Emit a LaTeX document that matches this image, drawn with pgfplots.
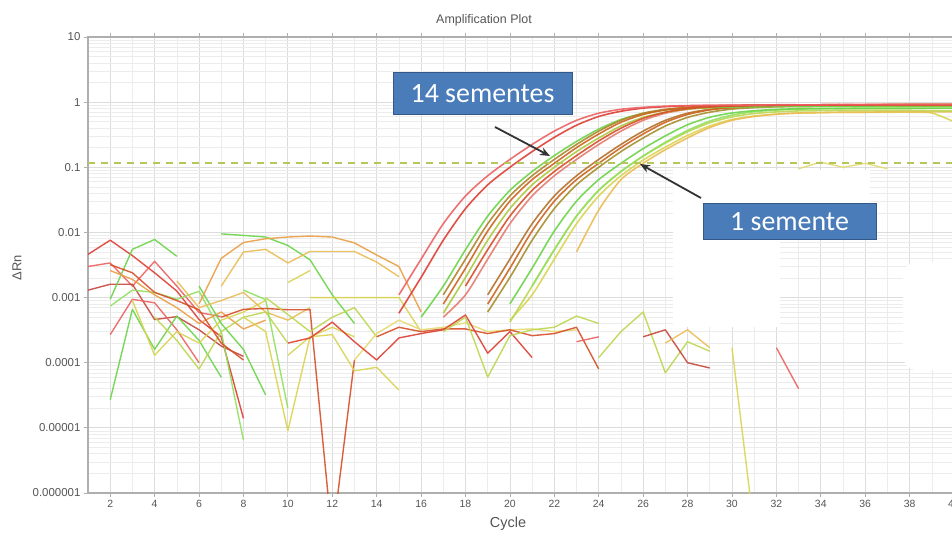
\documentclass[border=0pt]{standalone}
\usepackage{pgfplots}
\pgfplotsset{compat=1.18}
\usepackage{fontspec}
\setmainfont{Liberation Sans}
\newfontfamily\boxfont{Carlito}
\usetikzlibrary{arrows.meta}

% frame, grid and text colours
\definecolor{gridmaj}{RGB}{220,220,220}
\definecolor{gridmin}{RGB}{236,236,236}
\definecolor{axgray}{RGB}{175,175,175}
\definecolor{tickgray}{RGB}{85,85,85}
\definecolor{thresh}{RGB}{182,198,88}
\definecolor{boxblue}{RGB}{74,124,186}
\definecolor{boxedge}{RGB}{52,88,135}
% well colours
\definecolor{wRed}{RGB}{222,62,52}
\definecolor{wPink}{RGB}{236,98,98}
\definecolor{wRose}{RGB}{230,122,112}
\definecolor{wRedOr}{RGB}{215,78,40}
\definecolor{wDarkRed}{RGB}{198,72,60}
\definecolor{wOrBrown}{RGB}{205,100,30}
\definecolor{wBrown}{RGB}{180,112,40}
\definecolor{wOlBrown}{RGB}{175,132,42}
\definecolor{wOlive}{RGB}{165,142,42}
\definecolor{wOrange}{RGB}{235,158,68}
\definecolor{wYelOr}{RGB}{235,188,85}
\definecolor{wYellow}{RGB}{218,212,82}
\definecolor{wLtYel}{RGB}{228,218,112}
\definecolor{wYelGr}{RGB}{188,215,80}
\definecolor{wLime}{RGB}{170,202,62}
\definecolor{wGreen}{RGB}{108,212,72}
\definecolor{wLtGreen}{RGB}{145,225,95}

\pgfplotsset{amp/.style={smooth, tension=0.45, line width=1.6bp}}

\begin{document}
\begin{tikzpicture}[x=1bp,y=1bp]
\useasboundingbox (0,0) rectangle (952,536);
\fill[white] (0,0) rectangle (952,536);
\begin{axis}[
  at={(88bp,43bp)}, anchor=south west,
  scale only axis, width=866bp, height=456bp,
  xmin=1, xmax=40, ymode=log, ymin=1e-6, ymax=10,
  xtick={2,4,...,40},
  minor xtick={1,3,...,39},
  ytick={1e-6,1e-5,1e-4,1e-3,1e-2,1e-1,1,10},
  yticklabels={0.000001,0.00001,0.0001,0.001,0.01,0.1,1,10},
  minor ytick={2e-6,3e-6,4e-6,5e-6,6e-6,7e-6,8e-6,9e-6,
               2e-5,3e-5,4e-5,5e-5,6e-5,7e-5,8e-5,9e-5,
               2e-4,3e-4,4e-4,5e-4,6e-4,7e-4,8e-4,9e-4,
               2e-3,3e-3,4e-3,5e-3,6e-3,7e-3,8e-3,9e-3,
               0.02,0.03,0.04,0.05,0.06,0.07,0.08,0.09,
               0.2,0.3,0.4,0.5,0.6,0.7,0.8,0.9,
               2,3,4,5,6,7,8,9},
  grid=both,
  major grid style={draw=gridmaj, line width=0.8bp},
  minor grid style={draw=gridmin, line width=0.6bp},
  axis line style={draw=axgray, line width=1.3bp},
  tick align=outside,
  major tick length=4bp, minor tick length=0pt,
  tick style={draw=axgray, line width=0.8bp},
  xticklabel style={font=\fontsize{10.5}{12}\selectfont, text=tickgray},
  yticklabel style={font=\fontsize{11.5}{12}\selectfont, text=tickgray},
  /pgf/number format/assume math mode=true,
  every axis plot/.append style={line width=1.4bp, line join=round, mark=none, opacity=0.9},
]
% blank patches in the plotting area
\fill[white] (axis cs:27.35,0.09) rectangle (axis cs:36.2,7.6e-3);
\fill[white] (axis cs:27.35,7.6e-3) rectangle (axis cs:32.17,3.5e-4);
\fill[white, rounded corners=14bp] (axis cs:37.7,3.5e-3) rectangle (axis cs:41,7.7e-5);

% ---- baseline noise, early cycles ----
\addplot[wRed] coordinates {(1,4.6e-3)(2,7.6e-3)(3,4.4e-3)(4,2.4e-3)(5,1.26e-3)(6,4.6e-4)(7,2.5e-4)(8,1.4e-5)};
\addplot[wPink] coordinates {(1,3.0e-3)(2,3.4e-3)(3,1.5e-3)(4,3.6e-3)(5,1.5e-3)(6,5.9e-4)(7,5.1e-4)};
\addplot[wDarkRed] coordinates {(1,1.3e-3)(2,1.6e-3)(3,1.6e-3)(4,4.6e-4)(5,5.1e-4)(6,3.2e-4)(7,1.8e-4)(8,1.25e-4)};
\addplot[wPink] coordinates {(2,2.7e-4)(3,9.4e-4)(4,8.3e-4)(5,3.2e-4)(6,1.0e-4)};
\addplot[wGreen] coordinates {(2,2.7e-5)(3,6.6e-4)(4,1.6e-4)(5,5.2e-4)(6,2.2e-4)(7,6.0e-5)};
\addplot[wGreen] coordinates {(2,9.4e-4)(3,5.5e-3)(4,7.8e-3)(5,4.3e-3)};
\addplot[wLtGreen] coordinates {(2,7.4e-4)(3,1.3e-3)(4,1.2e-3)(5,9.4e-4)(6,1.25e-3)(7,3.0e-4)(8,6.5e-6)};
\addplot[wOrange] coordinates {(2,2.6e-3)(3,1.9e-3)(4,1.1e-3)(5,7.0e-4)(6,4.0e-4)(7,6.0e-4)(8,3.3e-4)(9,4.5e-4)};
\addplot[wYellow] coordinates {(3,9.0e-4)(4,1.3e-4)(5,3.0e-4)(6,2.0e-4)(7,4.5e-4)(8,6.0e-4)(9,9.0e-4)};
\addplot[wYelGr] coordinates {(4,5.0e-4)(5,2.2e-4)(6,8.0e-5)(7,3.0e-4)(8,5.0e-4)(9,6.0e-4)(10,2.0e-4)};
\addplot[wRedOr] coordinates {(2,3.2e-3)(3,2.4e-3)(4,1.2e-3)(5,9.0e-4)(6,6.5e-4)(7,2.0e-4)(8,1.1e-4)};
\addplot[wGreen] coordinates {(6,1.5e-3)(7,4.0e-4)(8,1.6e-4)(9,3.2e-5)};
\addplot[wYelOr] coordinates {(5,1.8e-3)(6,7.0e-4)(7,9.0e-4)(8,1.2e-3)(9,6.0e-4)(10,4.5e-4)(11,7.0e-4)};
\addplot[wLtGreen] coordinates {(8,1.3e-3)(9,9.3e-4)(10,2.0e-5)};

% ---- baseline noise, middle cycles ----
\addplot[wGreen] coordinates {(7,9.5e-3)(8,9.0e-3)(9,8.5e-3)(10,6.3e-3)(11,3.8e-3)(12,1.1e-3)(13,4.0e-4)};
\addplot[wOrange] coordinates {(6,8.0e-4)(7,4.0e-3)(8,7.0e-3)(9,8.0e-3)(10,8.5e-3)(11,8.8e-3)(12,8.5e-3)(13,6.9e-3)(14,4.5e-3)(15,3.0e-3)(16,6.0e-4)};
\addplot[wYelOr] coordinates {(7,1.5e-3)(8,5.0e-3)(9,5.5e-3)(10,3.4e-3)(11,5.1e-3)(12,5.1e-3)(13,5.1e-3)(14,3.5e-3)(15,2.1e-3)};
\addplot[wYellow] coordinates {(10,1.7e-3)(11,2.6e-3)};
\addplot[wYellow] coordinates {(11,1.0e-3)(12,1.0e-3)(13,1.0e-3)(14,1.0e-3)(15,1.0e-3)(16,3.0e-4)};
\addplot[wRedOr] coordinates {(7,5.0e-4)(8,6.6e-4)(9,6.8e-4)(10,6.5e-4)(11,6.5e-4)(12,2.0e-7)(13,1.1e-4)};
\addplot[wYellow] coordinates {(8,5.0e-4)(9,3.0e-4)(10,9.0e-6)(11,2.5e-4)(12,3.5e-4)(13,2.5e-4)};
\addplot[wYelGr] coordinates {(9,1.0e-3)(10,5.5e-4)(11,3.0e-4)(12,5.0e-4)(13,7.0e-4)(14,2.5e-4)};
\addplot[wYellow] coordinates {(10,1.3e-4)(11,2.5e-4)(12,2.7e-4)(13,7.5e-5)(14,8.5e-5)(15,3.8e-5)};
\addplot[wLtYel] coordinates {(13,1.1e-4)(14,2.8e-4)(15,4.5e-4)(16,3.2e-4)(17,3.5e-4)(18,4.1e-4)(19,3.0e-4)(20,3.2e-4)(21,3.3e-4)(22,3.0e-4)(23,3.2e-4)};
\addplot[wRed] coordinates {(10,2.0e-4)(11,2.4e-4)(12,4.2e-4)(13,2.1e-4)(14,1.1e-4)(15,2.4e-4)(16,2.8e-4)(17,3.2e-4)(18,5.4e-4)(19,1.4e-4)(20,3.0e-4)(21,1.2e-4)};
\addplot[wRedOr] coordinates {(14,2.5e-4)(15,3.5e-4)(16,3.0e-4)(17,3.3e-4)(18,3.3e-4)(19,2.8e-4)(20,3.2e-4)(21,2.6e-4)(22,2.8e-4)(23,3.5e-4)(24,8.0e-5)};
\addplot[wPink] coordinates {(23,2.1e-4)(24,2.5e-4)};
\addplot[wYelGr] coordinates {(17,3.0e-4)(18,5.0e-4)(19,6.0e-5)(20,2.6e-4)(21,3.2e-4)(22,3.5e-4)(23,5.2e-4)(24,4.0e-4)};

% ---- baseline noise, late cycles ----
\addplot[wYelGr] coordinates {(24,1.2e-4)(25,3.0e-4)(26,6.0e-4)(27,7.0e-5)(28,2.1e-4)(29,1.5e-4)};
\addplot[wDarkRed] coordinates {(26,2.5e-4)(27,3.2e-4)(28,1.0e-4)(29,8.3e-5)};
\addplot[wYelOr] coordinates {(27,2.0e-4)(28,3.2e-4)(29,1.7e-4)};
\addplot[wYellow] coordinates {(30,1.7e-4)(31,2.8e-7)};
\addplot[wPink] coordinates {(32,1.7e-4)(33,4.0e-5)};
\addplot[wLtYel] coordinates {(33,0.095)(34,0.12)(35,0.10)(36,0.115)(37,0.095)};

% ---- amplification curves ----
\addplot[wYellow, amp] coordinates {(20,4.5e-4)(21,1.10e-3)(22,3.89e-3)(23,1.36e-2)(24,3.63e-2)(25,7.41e-2)(26,0.129)(27,0.204)(28,0.308)(29,0.430)(30,0.541)(31,0.610)(32,0.653)(33,0.681)(34,0.69)(35,0.70)(36,0.70)(37,0.70)(38,0.70)(39,0.68)(40,0.50)};
\addplot[wYelOr, amp] coordinates {(23,5.0e-3)(24,2.2e-2)(25,6.46e-2)(26,0.115)(27,0.186)(28,0.282)(29,0.407)(30,0.525)(31,0.603)(32,0.653)(33,0.68)(34,0.69)(35,0.70)(36,0.70)(37,0.71)(38,0.71)(39,0.71)(40,0.71)};
\addplot[wYelGr, amp] coordinates {(20,4.2e-4)(21,1.50e-3)(22,5.43e-3)(23,1.78e-2)(24,4.42e-2)(25,8.61e-2)(26,0.148)(27,0.235)(28,0.350)(29,0.482)(30,0.593)(31,0.668)(32,0.708)(33,0.733)(34,0.74)(35,0.75)(36,0.75)(37,0.75)(38,0.75)(39,0.74)(40,0.73)};
\addplot[wLtGreen, amp] coordinates {(21,1.50e-3)(22,5.43e-3)(23,1.78e-2)(24,4.42e-2)(25,8.61e-2)(26,0.149)(27,0.242)(28,0.367)(29,0.511)(30,0.631)(31,0.713)(32,0.755)(33,0.782)(34,0.79)(35,0.80)(36,0.80)(37,0.80)(38,0.80)(39,0.80)(40,0.80)};
\addplot[wGreen, amp] coordinates {(20,8.0e-4)(21,2.82e-3)(22,1.05e-2)(23,3.02e-2)(24,6.46e-2)(25,0.115)(26,0.193)(27,0.303)(28,0.449)(29,0.586)(30,0.681)(31,0.738)(32,0.773)(33,0.791)(34,0.80)(35,0.80)(36,0.81)(37,0.81)(38,0.81)(39,0.81)(40,0.81)};
\addplot[wOlive, amp] coordinates {(19,6.0e-4)(20,2.04e-3)(21,7.59e-3)(22,2.32e-2)(23,5.37e-2)(24,0.100)(25,0.174)(26,0.282)(27,0.430)(28,0.583)(29,0.700)(30,0.782)(31,0.822)(32,0.847)(33,0.855)(34,0.86)(35,0.86)(36,0.87)(37,0.87)(38,0.87)(39,0.87)(40,0.87)};
\addplot[wBrown, amp] coordinates {(19,1.10e-3)(20,3.89e-3)(21,1.36e-2)(22,3.63e-2)(23,7.41e-2)(24,0.132)(25,0.224)(26,0.359)(27,0.525)(28,0.676)(29,0.776)(30,0.832)(31,0.867)(32,0.885)(33,0.89)(34,0.89)(35,0.90)(36,0.90)(37,0.90)(38,0.90)(39,0.90)(40,0.90)};
\addplot[wOrBrown, amp] coordinates {(19,7.94e-4)(20,2.82e-3)(21,1.05e-2)(22,3.02e-2)(23,6.46e-2)(24,0.115)(25,0.200)(26,0.324)(27,0.490)(28,0.646)(29,0.759)(30,0.822)(31,0.861)(32,0.881)(33,0.89)(34,0.90)(35,0.90)(36,0.91)(37,0.91)(38,0.91)(39,0.91)(40,0.91)};
\addplot[wRose, amp] coordinates {(17,5.0e-4)(18,1.10e-3)(19,3.89e-3)(20,1.36e-2)(21,3.63e-2)(22,7.41e-2)(23,0.132)(24,0.224)(25,0.359)(26,0.525)(27,0.676)(28,0.776)(29,0.832)(30,0.867)(31,0.885)(32,0.89)(33,0.89)(34,0.89)(35,0.90)(36,0.90)(37,0.90)(38,0.90)(39,0.90)(40,0.90)};
\addplot[wLime, amp] coordinates {(17,5.75e-4)(18,2.04e-3)(19,7.59e-3)(20,2.32e-2)(21,5.37e-2)(22,0.100)(23,0.174)(24,0.282)(25,0.430)(26,0.583)(27,0.700)(28,0.782)(29,0.822)(30,0.847)(31,0.855)(32,0.86)(33,0.86)(34,0.87)(35,0.87)(36,0.87)(37,0.87)(38,0.88)(39,0.88)(40,0.88)};
\addplot[wGreen, amp] coordinates {(16,5.0e-4)(17,1.50e-3)(18,5.43e-3)(19,1.78e-2)(20,4.42e-2)(21,8.61e-2)(22,0.151)(23,0.249)(24,0.385)(25,0.541)(26,0.670)(27,0.759)(28,0.804)(29,0.832)(30,0.847)(31,0.85)(32,0.86)(33,0.86)(34,0.87)(35,0.87)(36,0.87)(37,0.88)(38,0.88)(39,0.88)(40,0.88)};
\addplot[wOlBrown, amp] coordinates {(17,1.10e-3)(18,3.89e-3)(19,1.36e-2)(20,3.63e-2)(21,7.41e-2)(22,0.132)(23,0.224)(24,0.359)(25,0.525)(26,0.676)(27,0.776)(28,0.832)(29,0.867)(30,0.882)(31,0.89)(32,0.89)(33,0.90)(34,0.90)(35,0.90)(36,0.90)(37,0.91)(38,0.91)(39,0.91)(40,0.91)};
\addplot[wOrBrown, amp] coordinates {(17,7.94e-4)(18,2.82e-3)(19,1.05e-2)(20,3.02e-2)(21,6.46e-2)(22,0.115)(23,0.200)(24,0.324)(25,0.490)(26,0.646)(27,0.759)(28,0.822)(29,0.861)(30,0.881)(31,0.89)(32,0.90)(33,0.90)(34,0.91)(35,0.91)(36,0.91)(37,0.91)(38,0.92)(39,0.92)(40,0.92)};
\addplot[wRedOr, amp] coordinates {(18,1.50e-3)(19,5.43e-3)(20,1.78e-2)(21,4.42e-2)(22,8.61e-2)(23,0.151)(24,0.254)(25,0.398)(26,0.562)(27,0.700)(28,0.794)(29,0.841)(30,0.871)(31,0.885)(32,0.89)(33,0.90)(34,0.90)(35,0.91)(36,0.91)(37,0.92)(38,0.92)(39,0.92)(40,0.92)};
\addplot[wRed, amp] coordinates {(15,5.75e-4)(16,2.04e-3)(17,7.59e-3)(18,2.32e-2)(19,5.37e-2)(20,0.100)(21,0.174)(22,0.288)(23,0.442)(24,0.603)(25,0.724)(26,0.809)(27,0.851)(28,0.877)(29,0.889)(30,0.89)(31,0.90)(32,0.90)(33,0.90)(34,0.91)(35,0.91)(36,0.91)(37,0.91)(38,0.91)(39,0.91)(40,0.91)};
\addplot[wPink, amp] coordinates {(15,1.10e-3)(16,3.89e-3)(17,1.36e-2)(18,3.63e-2)(19,7.41e-2)(20,0.132)(21,0.224)(22,0.359)(23,0.525)(24,0.676)(25,0.776)(26,0.832)(27,0.867)(28,0.885)(29,0.89)(30,0.90)(31,0.90)(32,0.91)(33,0.91)(34,0.91)(35,0.92)(36,0.92)(37,0.92)(38,0.92)(39,0.92)(40,0.92)};

% threshold
\addplot[thresh, line width=1.9bp, opacity=1, dash pattern=on 7bp off 6bp] coordinates {(1,0.115)(40,0.115)};
\end{axis}

% titles
\node[font=\fontsize{12.5}{14}\selectfont, text=tickgray] at (484,516) {Amplification Plot};
\node[font=\fontsize{14.5}{16}\selectfont, text=tickgray] at (508,12) {Cycle};
\node[font=\fontsize{13}{15}\selectfont, text=tickgray, rotate=90] at (17,268) {ΔRn};

% callouts
\node[draw=boxedge, fill=boxblue, line width=1bp, text=white, minimum width=179bp, minimum height=42bp, inner sep=0pt,
      font=\boxfont\fontsize{28}{30}\selectfont] at (482.5,442) {14 sementes};
\node[draw=boxedge, fill=boxblue, line width=1bp, text=white, minimum width=173bp, minimum height=36bp, inner sep=0pt,
      font=\boxfont\fontsize{28}{30}\selectfont] at (789.5,314) {1 semente};
\draw[draw=black!80, line width=1.8bp, -{Stealth[length=10bp,width=8bp]}] (495,409) -- (550,380);
\draw[draw=black!80, line width=1.8bp, -{Stealth[length=10bp,width=8bp]}] (701,338) -- (640,372);
\end{tikzpicture}
\end{document}
